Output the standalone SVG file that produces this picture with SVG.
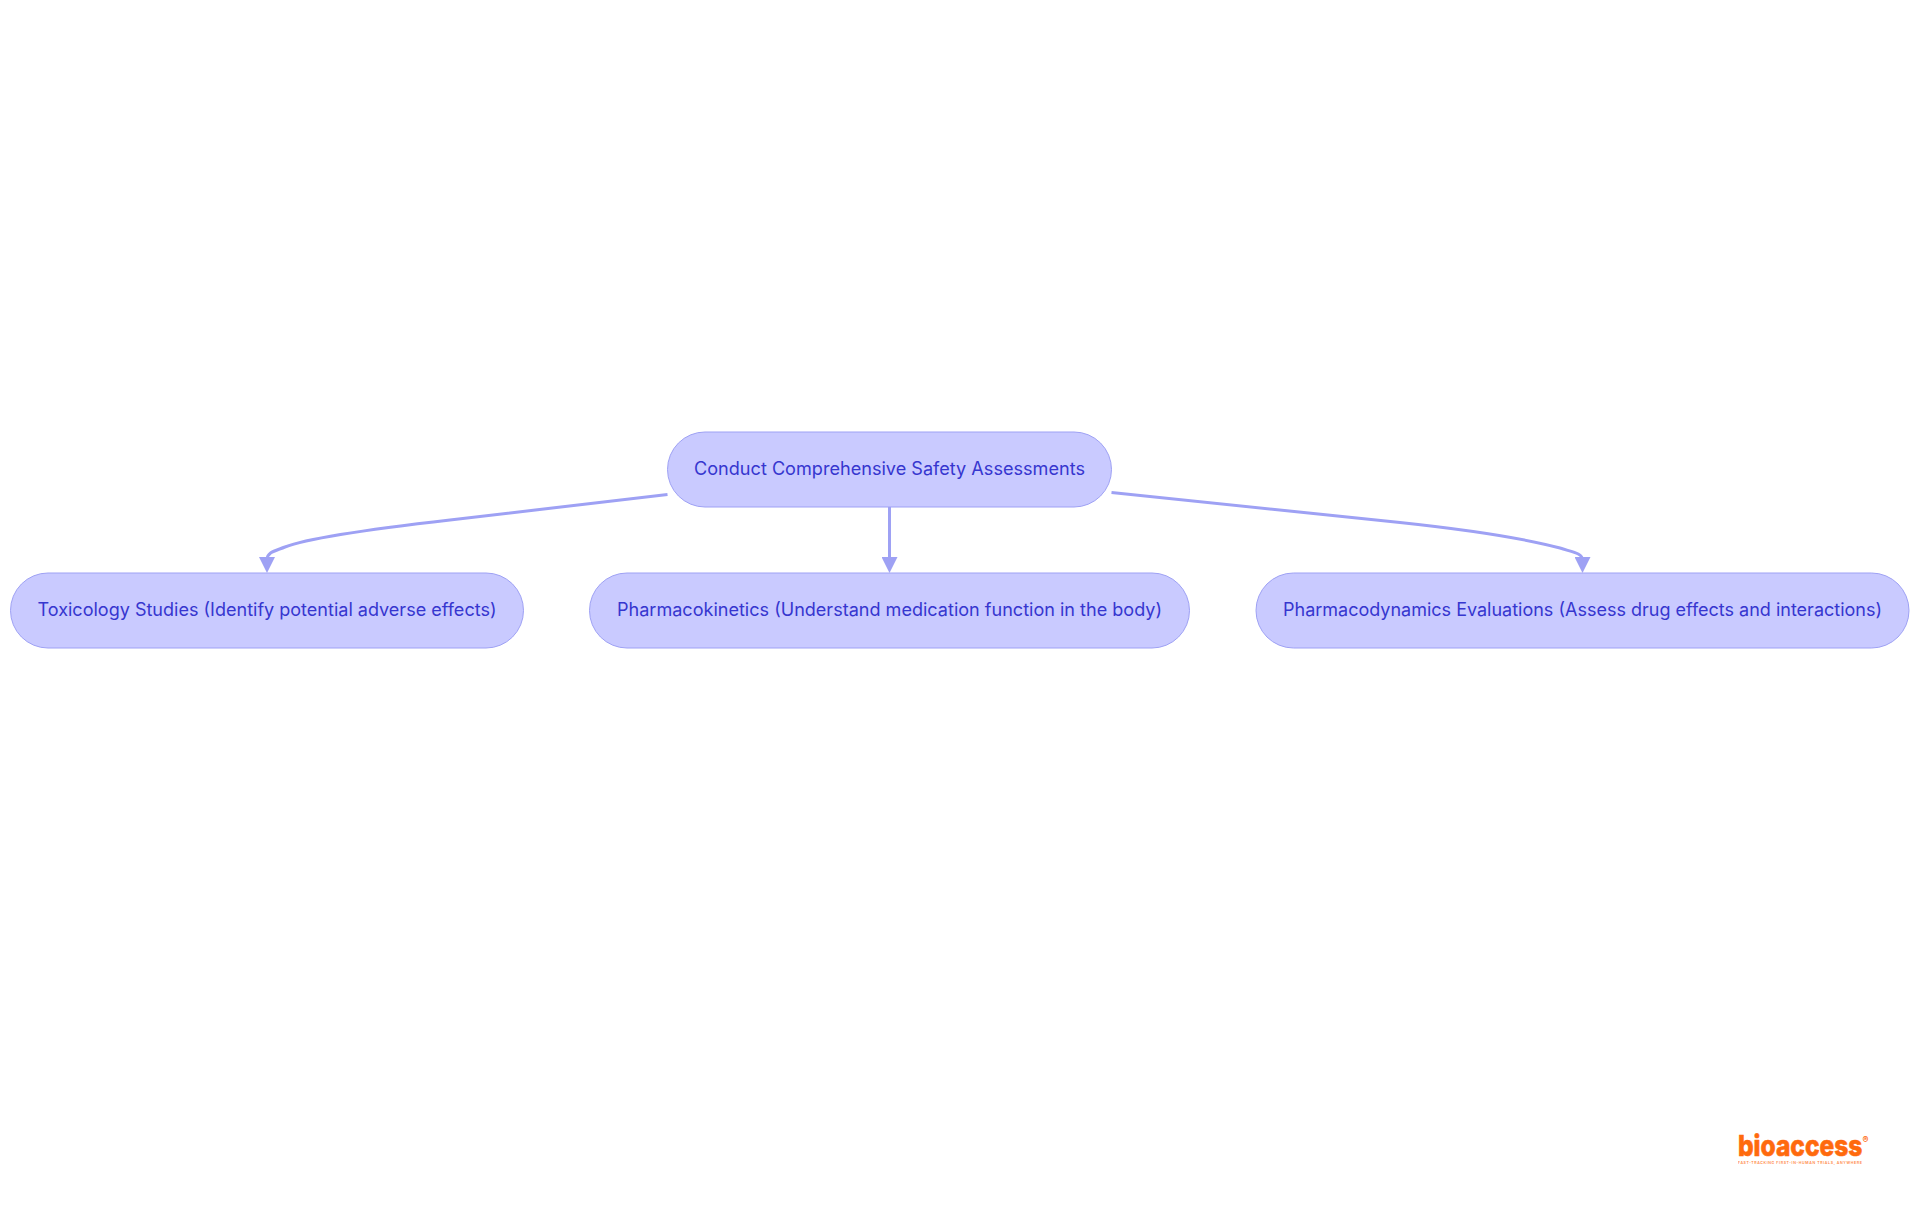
<svg xmlns="http://www.w3.org/2000/svg" width="1920" height="1215" viewBox="0 0 1920 1215">
<style>
.n{fill:#c9caff;stroke:#9ea1f4;stroke-width:1}
.t{font-family:"Inter","Noto Sans",sans-serif;font-size:18px;fill:#3636cf;text-anchor:middle}
.c{fill:none;stroke:#9ea1f4;stroke-width:3;marker-end:url(#a)}
.l{font-family:"Inter","Liberation Sans",sans-serif;fill:#ff6a0d}
</style>
<defs><marker id="a" viewBox="0 0 16 16" refX="3" refY="8" markerUnits="userSpaceOnUse" markerWidth="16" markerHeight="16" orient="auto"><path d="M0 0L16 8L0 16Z" fill="#9ea1f4"/></marker></defs>
<rect width="1920" height="1215" fill="#fff"/>
<g id="connectors">
<path class="c" d="M667.500 494.500L450 520C380 528 310 537 285 547C275 551 267 552 267 560"/>
<path class="c" d="M889.500 507V560"/>
<path class="c" d="M1111.500 492.500L1400 522.500C1470 530 1530 540 1560 548C1572 552 1582.500 553 1582.500 560"/>
</g>
<g id="root"><rect class="n" x="667.500" y="432" width="444" height="75" rx="37.500"/><text class="t" x="889.500" y="475" textLength="391" lengthAdjust="spacingAndGlyphs">Conduct Comprehensive Safety Assessments</text></g>
<g id="tox"><rect class="n" x="10.500" y="573" width="513" height="75" rx="37.500"/><text class="t" x="267" y="616" textLength="459" lengthAdjust="spacingAndGlyphs">Toxicology Studies (Identify potential adverse effects)</text></g>
<g id="pk"><rect class="n" x="589.500" y="573" width="600" height="75" rx="37.500"/><text class="t" x="889.500" y="616" textLength="545" lengthAdjust="spacingAndGlyphs">Pharmacokinetics (Understand medication function in the body)</text></g>
<g id="pd"><rect class="n" x="1256" y="573" width="653" height="75" rx="37.500"/><text class="t" x="1582.500" y="616" textLength="599" lengthAdjust="spacingAndGlyphs">Pharmacodynamics Evaluations (Assess drug effects and interactions)</text></g>
<g id="logo">
<text class="l" transform="translate(1738 1156) scale(.845 1)" font-size="29" font-weight="800" stroke="#ff6a0d" stroke-width=".6">bioaccess</text>
<text class="l" x="1862.500" y="1143" font-size="9" font-weight="700">®</text>
<text class="l" x="1738" y="1163.500" font-size="3.600" font-weight="600" opacity=".8" textLength="124" lengthAdjust="spacing">FAST-TRACKING FIRST-IN-HUMAN TRIALS, ANYWHERE</text>
</g>
</svg>
